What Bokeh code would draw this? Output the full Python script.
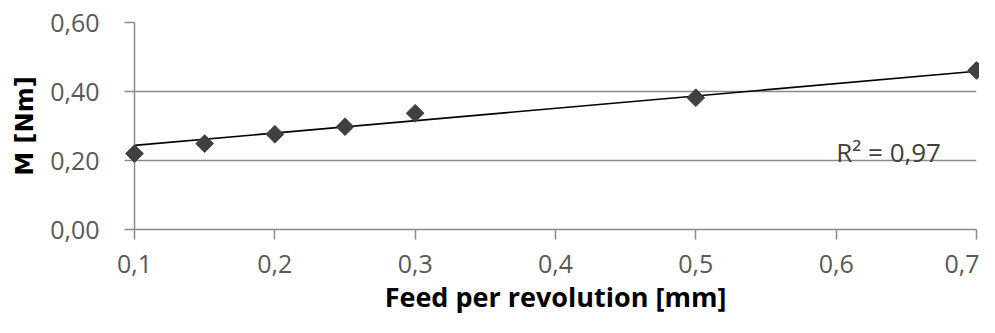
from math import pi
from bokeh.plotting import figure
from bokeh.models import Range1d, FixedTicker, CustomJSTickFormatter, Label
from bokeh.embed import file_html
from bokeh.resources import INLINE

feed = [0.1, 0.15, 0.2, 0.25, 0.3, 0.5, 0.7]
moment = [0.22, 0.249, 0.276, 0.298, 0.337, 0.382, 0.461]
# linear trendline coefficients (M = a*f + b)
trend_slope = 0.358
trend_intercept = 0.208
x_ticks = [0.1, 0.2, 0.3, 0.4, 0.5, 0.6, 0.7]
y_ticks = [0.0, 0.2, 0.4, 0.6]
r2_text = "R\u00b2 = 0,97"

FONT = "Open Sans"
GRID = "#8a8a8a"

p = figure(width=979, height=317, output_backend="svg", toolbar_location=None,
           x_range=Range1d(0.1, 0.7), y_range=Range1d(0.0, 0.6),
           min_border_left=134, min_border_right=3, min_border_top=22,
           min_border_bottom=88)
p.outline_line_color = None
p.background_fill_color = "white"
p.border_fill_color = "white"

p.xgrid.grid_line_color = None
p.ygrid.grid_line_color = GRID
p.ygrid.grid_line_width = 1.5
p.ygrid.ticker = FixedTicker(ticks=y_ticks)

for ax in (p.xaxis[0], p.yaxis[0]):
    ax.axis_line_color = GRID
    ax.axis_line_width = 1.5
    ax.major_tick_line_color = GRID
    ax.major_tick_line_width = 1.5
    ax.major_tick_in = 0
    ax.major_tick_out = 10
    ax.minor_tick_line_color = None
    ax.major_label_text_font = FONT
    ax.major_label_text_font_size = "25px"
    ax.major_label_text_color = "#595959"
    ax.axis_label_text_font_style = "bold"
    ax.axis_label_text_color = "#000000"

p.xaxis.axis_label_text_font = FONT
p.xaxis.axis_label_text_font_size = "27px"
p.yaxis.axis_label_text_font = "DejaVu Sans"
p.yaxis.axis_label_text_font_size = "24px"

p.xaxis.ticker = FixedTicker(ticks=x_ticks)
p.yaxis.ticker = FixedTicker(ticks=y_ticks)
p.xaxis.formatter = CustomJSTickFormatter(code="return tick.toFixed(1).replace('.', ',');")
p.yaxis.formatter = CustomJSTickFormatter(code="return tick.toFixed(2).replace('.', ',');")
p.xaxis.axis_label = "Feed per revolution [mm]"
p.yaxis.axis_label = "M [Nm]"
p.xaxis.major_label_standoff = 15
p.xaxis.axis_label_standoff = 2
p.yaxis.major_label_standoff = 25
p.yaxis.axis_label_standoff = 8

xs = [min(feed), max(feed)]
ys = [trend_slope * v + trend_intercept for v in xs]
p.line(xs, ys, line_color="#000000", line_width=1.6)

pts = p.scatter(feed, moment, marker="square", angle=pi / 4, size=12.5,
                fill_color="#404040", line_color="#404040")
pts.level = "overlay"

p.add_layout(Label(x=0.6, y=0.225, text=r2_text, text_font=FONT,
                   text_font_size="26px", text_color="#404040",
                   text_baseline="alphabetic", text_align="left"))

open("out.html", "w").write(file_html(p, INLINE))
